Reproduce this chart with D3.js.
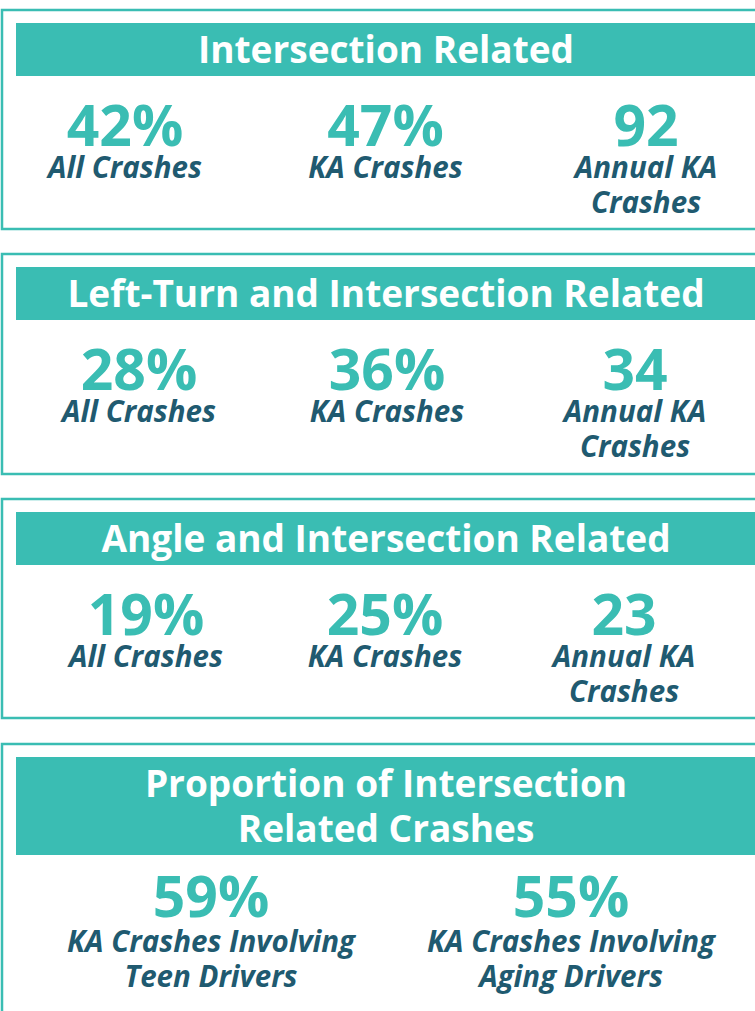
<!DOCTYPE html>
<html>
  <head>
    <title>Intersection Crash Stats</title>
    <script src="https://d3js.org/d3.v7.min.js"></script>
    <style>
      body { margin: 0; background: #fff; }
      svg { display: block; }
      .panel__title { font-family: "Open Sans", sans-serif; font-weight: 700; font-size: 37px; fill: #fff; }
      .stat__value { font-family: "Open Sans", sans-serif; font-weight: 700; font-size: 57px; fill: #3abdb3; }
      .stat__label { font-family: "Open Sans", sans-serif; font-weight: 700; font-style: italic; font-size: 29.5px; fill: #205a70; }
    </style>
  </head>
  <body>
    <svg width="755" height="1011"></svg>
    <script>
      // data
      const titles = [
        ["Intersection Related"],
        ["Left-Turn and Intersection Related"],
        ["Angle and Intersection Related"],
        ["Proportion of Intersection", "Related Crashes"]
      ];
      const values = [
        ["42%", "47%", "92"],
        ["28%", "36%", "34"],
        ["19%", "25%", "23"],
        ["59%", "55%"]
      ];
      const labels = [
        [["All Crashes"], ["KA Crashes"], ["Annual KA", "Crashes"]],
        [["All Crashes"], ["KA Crashes"], ["Annual KA", "Crashes"]],
        [["All Crashes"], ["KA Crashes"], ["Annual KA", "Crashes"]],
        [["KA Crashes Involving", "Teen Drivers"], ["KA Crashes Involving", "Aging Drivers"]]
      ];

      // layout
      const panelTops = [9, 253, 498, 743];
      const panelHeights = [221, 222, 221, 300];
      const valueOffsets = [137, 137, 137, 174];
      const labelOffsets = [32, 32, 32, 35];
      const columnRanges = [[125, 646], [139, 635], [146, 624], [211, 571]];
      const teal = "#3abdb3";

      const svg = d3.select("svg");

      titles.forEach((title, p) => {
        const top = panelTops[p];
        const headerH = title.length > 1 ? 98 : 53;
        const g = svg.append("g").attr("transform", `translate(0, ${top})`);

        g.append("rect")
          .attr("x", 2)
          .attr("y", 1)
          .attr("width", 800)
          .attr("height", panelHeights[p] - 2)
          .attr("fill", "none")
          .attr("stroke", teal)
          .attr("stroke-width", 2.5);

        g.append("rect")
          .attr("x", 16)
          .attr("y", 14)
          .attr("width", 740)
          .attr("height", headerH)
          .attr("fill", teal);

        g.selectAll(".panel__title")
          .data(title)
          .join("text")
            .attr("class", "panel__title")
            .attr("x", 386)
            .attr("y", (d, i) => 54 + i * 45)
            .attr("text-anchor", "middle")
            .text(d => d);

        const x = d3.scalePoint()
          .domain(d3.range(values[p].length))
          .range(columnRanges[p]);

        const stats = g.selectAll(".stat")
          .data(values[p].map((v, i) => ({ value: v, label: labels[p][i], i })))
          .join("g")
            .attr("class", "stat")
            .attr("transform", d => `translate(${x(d.i)}, ${valueOffsets[p]})`);

        stats.append("text")
          .attr("class", "stat__value")
          .attr("text-anchor", "middle")
          .text(d => d.value);

        stats.selectAll(".stat__label")
          .data(d => d.label)
          .join("text")
            .attr("class", "stat__label")
            .attr("text-anchor", "middle")
            .attr("y", (d, i) => labelOffsets[p] + i * 35)
            .text(d => d);
      });
    </script>
  </body>
</html>
